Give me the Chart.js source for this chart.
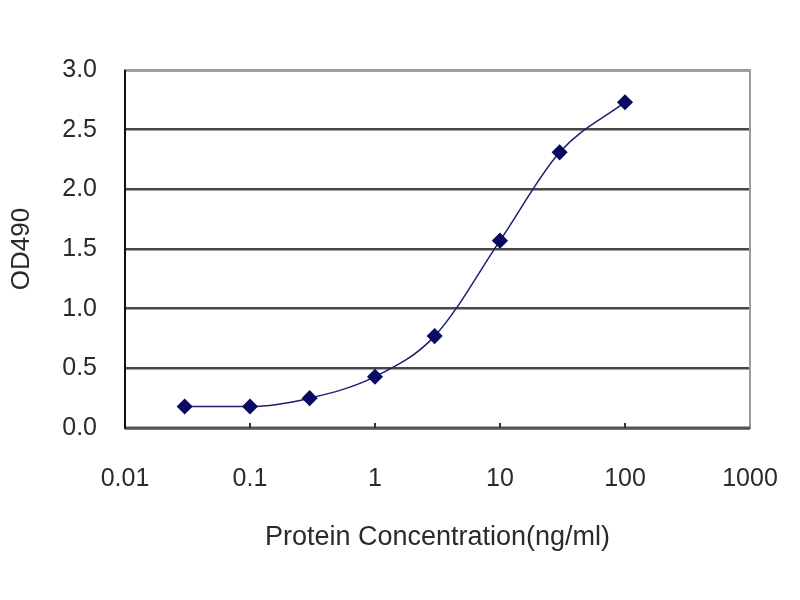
<!DOCTYPE html>
<html>
<head>
<meta charset="utf-8">
<script src="https://cdn.jsdelivr.net/npm/chart.js@4"></script>
<style>
  body { margin: 0; background: #fff; }
  #wrap { width: 800px; height: 600px; }
</style>
</head>
<body>
<div id="wrap"><canvas id="od-chart" width="800" height="600"></canvas></div>
<script>
// Dose-response data
const concentrations = [0.03, 0.1, 0.3, 1, 3, 10, 30, 100];
const odValues = [0.18, 0.18, 0.25, 0.43, 0.77, 1.57, 2.31, 2.73];
const xTicks = [0.01, 0.1, 1, 10, 100, 1000];
const xTickLabels = ['0.01', '0.1', '1', '10', '100', '1000'];

// grey box round the plot area, black left axis on top
const frame = {
    id: 'frame',
    afterDatasetsDraw(chart) {
        const { ctx, chartArea: a } = chart;
        ctx.save();
        ctx.strokeStyle = '#9a9a9a';
        ctx.lineWidth = 2;
        ctx.strokeRect(a.left, a.top, a.right - a.left, a.bottom - a.top);
        ctx.strokeStyle = '#555';
        ctx.lineWidth = 3;
        ctx.beginPath();
        ctx.moveTo(a.left, a.bottom);
        ctx.lineTo(a.right, a.bottom);
        ctx.stroke();
        ctx.strokeStyle = '#111';
        ctx.lineWidth = 2;
        ctx.beginPath();
        ctx.moveTo(a.left, a.top);
        ctx.lineTo(a.left, a.bottom + 1);
        ctx.stroke();
        // small tick marks on the x axis
        const xs = chart.scales.x;
        ctx.strokeStyle = '#333';
        xTicks.slice(1, -1).forEach(v => {
            const px = xs.getPixelForValue(v);
            ctx.beginPath();
            ctx.moveTo(px, a.bottom);
            ctx.lineTo(px, a.bottom - 5);
            ctx.stroke();
        });
        ctx.restore();
    }
};

const ctx = document.getElementById('od-chart').getContext('2d');
new Chart(ctx, {
    type: 'line',
    data: {
        datasets: [{
            data: concentrations.map((c, i) => ({ x: c, y: odValues[i] })),
            borderColor: '#1e1e6e',
            borderWidth: 1.5,
            cubicInterpolationMode: 'monotone',
            pointStyle: 'rectRot',
            pointRadius: 7,
            pointBackgroundColor: '#0a0a66',
            pointBorderColor: '#0a0a66',
            fill: false
        }]
    },
    options: {
        responsive: false,
        animation: false,
        layout: { padding: { top: 70, right: 50, left: 0, bottom: 0 } },
        plugins: { legend: { display: false }, tooltip: { enabled: false } },
        scales: {
            x: {
                type: 'logarithmic',
                min: 0.01,
                max: 1000,
                afterBuildTicks: scale => {
                    scale.ticks = xTicks.map(v => ({ value: v }));
                },
                afterFit: scale => {
                    scale.height = 172;
                    scale.paddingLeft = 0;
                    scale.paddingRight = 0;
                },
                grid: { display: false },
                border: { display: false },
                ticks: {
                    autoSkip: false,
                    maxRotation: 0,
                    padding: 28,
                    color: '#2a2a2a',
                    font: { family: 'Liberation Sans', size: 25 },
                    callback: (v) => {
                        const i = xTicks.indexOf(v);
                        return i >= 0 ? xTickLabels[i] : '';
                    }
                },
                title: {
                    display: true,
                    text: 'Protein Concentration(ng/ml)',
                    color: '#2a2a2a',
                    font: { family: 'Liberation Sans', size: 27 },
                    padding: { top: 0, bottom: 46 }
                }
            },
            y: {
                min: 0,
                max: 3,
                afterFit: scale => { scale.width = 125; },
                grid: { color: '#474747', lineWidth: 2.5, drawTicks: false },
                border: { display: false },
                ticks: {
                    stepSize: 0.5,
                    padding: 28,
                    color: '#2a2a2a',
                    font: { family: 'Liberation Sans', size: 25 },
                    callback: v => v.toFixed(1)
                },
                title: {
                    display: true,
                    text: 'OD490',
                    color: '#2a2a2a',
                    font: { family: 'Liberation Sans', size: 26 },
                    padding: { top: 6, bottom: 0 }
                }
            }
        }
    },
    plugins: [frame]
});
</script>
</body>
</html>
